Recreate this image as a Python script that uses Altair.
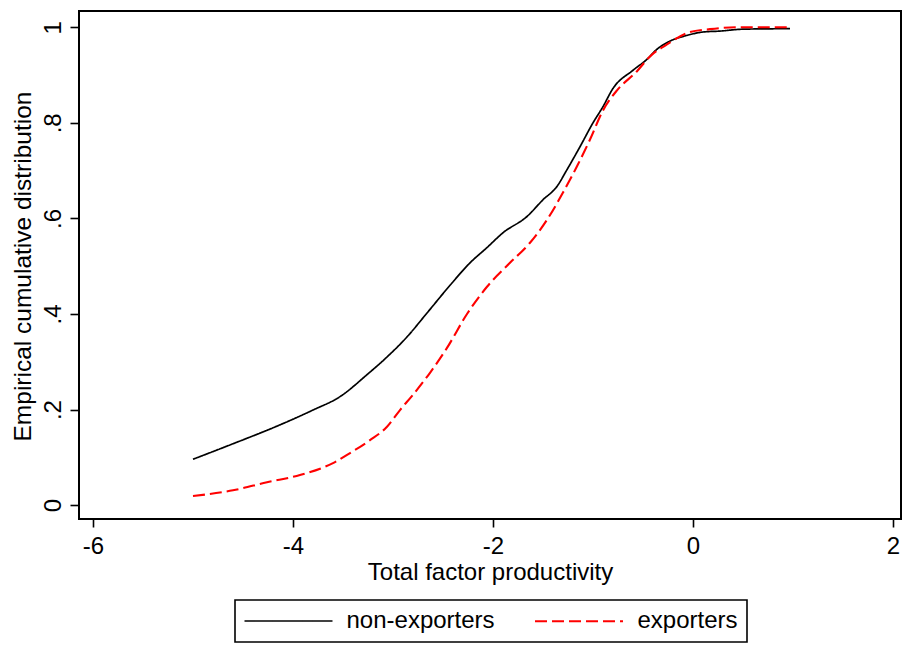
import altair as alt
import pandas as pd

# Non-exporters ECDF
non_x = [-5.0, -4.63, -4.13, -3.8, -3.53, -3.26, -3.06, -2.86, -2.66, -2.43, -2.23, -2.06,
         -1.9, -1.66, -1.5, -1.36, -1.26, -1.13, -1.0, -0.9, -0.8, -0.6, -0.46, -0.36,
         -0.23, -0.06, 0.1, 0.27, 0.5, 0.97]
non_y = [0.096, 0.126, 0.168, 0.199, 0.227, 0.273, 0.31, 0.352, 0.402, 0.46, 0.507, 0.539,
         0.57, 0.604, 0.639, 0.667, 0.702, 0.75, 0.80, 0.834, 0.872, 0.91, 0.933, 0.954,
         0.971, 0.983, 0.99, 0.992, 0.996, 0.997]

# Exporters ECDF
exp_x = [-5.0, -4.6, -4.26, -3.93, -3.6, -3.43, -3.23, -3.06, -2.93, -2.8, -2.63, -2.46,
         -2.26, -2.06, -1.83, -1.63, -1.46, -1.3, -1.16, -1.03, -0.9, -0.76, -0.56, -0.43,
         -0.26, -0.03, 0.17, 0.44, 0.97]
exp_y = [0.019, 0.031, 0.048, 0.063, 0.088, 0.109, 0.136, 0.164, 0.199, 0.231, 0.277, 0.329,
         0.400, 0.457, 0.507, 0.549, 0.597, 0.654, 0.709, 0.765, 0.826, 0.868, 0.908, 0.939,
         0.964, 0.99, 0.996, 1.0, 1.0]

groups = ["non-exporters", "exporters"]
x_ticks = [-6, -4, -2, 0, 2]
y_ticks = [0, 0.2, 0.4, 0.6, 0.8, 1]

rows = []
for i, (a, b) in enumerate(zip(non_x, non_y)):
    rows.append({"tfp": a, "cdf": b, "group": groups[0], "order": i})
for i, (a, b) in enumerate(zip(exp_x, exp_y)):
    rows.append({"tfp": a, "cdf": b, "group": groups[1], "order": i})
df = pd.DataFrame(rows)

FONT = "Liberation Sans"
FS = 24

chart = alt.Chart(df).mark_line(interpolate="monotone").encode(
    x=alt.X("tfp:Q",
            scale=alt.Scale(domain=[-6.14, 2.08], nice=False, zero=False),
            axis=alt.Axis(values=x_ticks, title="Total factor productivity",
                          labelExpr="'' + datum.value",
                          labelFlush=False, labelOverlap=False, labelPadding=7,
                          tickSize=8, titleBaseline="alphabetic", titleY=60)),
    y=alt.Y("cdf:Q",
            scale=alt.Scale(domain=[-0.029, 1.034], nice=False, zero=False),
            axis=alt.Axis(values=y_ticks, title="Empirical cumulative distribution",
                          labelExpr="datum.value == 1 ? '1' : datum.value == 0 ? '0' : replace(format(datum.value, '.1f'), '0.', '.')",
                          labelAngle=270, labelAlign="center", labelBaseline="alphabetic",
                          labelPadding=10, tickSize=9, titleAngle=270,
                          titleBaseline="alphabetic", titleAlign="center",
                          titleFontSize=24.5,
                          titleX=-49, titleY=255)),
    color=alt.Color("group:N",
                    scale=alt.Scale(domain=groups, range=["#000000", "#ff0000"]),
                    legend=alt.Legend(title=None, orient="none", direction="horizontal",
                                      legendX=156, legendY=589,
                                      symbolType="M-1,0H7", symbolSize=484,
                                      symbolStrokeWidth=1.6, labelOffset=79,
                                      columnPadding=35, padding=8.5,
                                      labelFontSize=FS, labelFont=FONT,
                                      labelColor="#000000",
                                      strokeColor="#000000")),
    strokeDash=alt.StrokeDash("group:N",
                              scale=alt.Scale(domain=groups, range=[[1, 0], [12, 5]]),
                              legend=None),
    strokeWidth=alt.StrokeWidth("group:N",
                                scale=alt.Scale(domain=groups, range=[1.7, 2.1]),
                                legend=None),
    order="order:Q",
).properties(
    width=822, height=508,
    autosize=alt.AutoSizeParams(type="none"),
    padding={"left": 71, "top": 3, "right": 1, "bottom": 125},
).configure(
    font=FONT,
).configure_view(
    stroke="#000000", strokeWidth=2,
).configure_axis(
    domain=False, grid=False,
    labelFont=FONT, labelFontSize=FS, labelColor="#000000",
    titleFont=FONT, titleFontSize=FS, titleFontWeight="normal", titleColor="#000000",
    tickColor="#000000", tickWidth=1.6,
).configure_legend(
    strokeWidth=1.6,
)

chart.save("out.html", embed_options={"renderer": "svg", "actions": False})
